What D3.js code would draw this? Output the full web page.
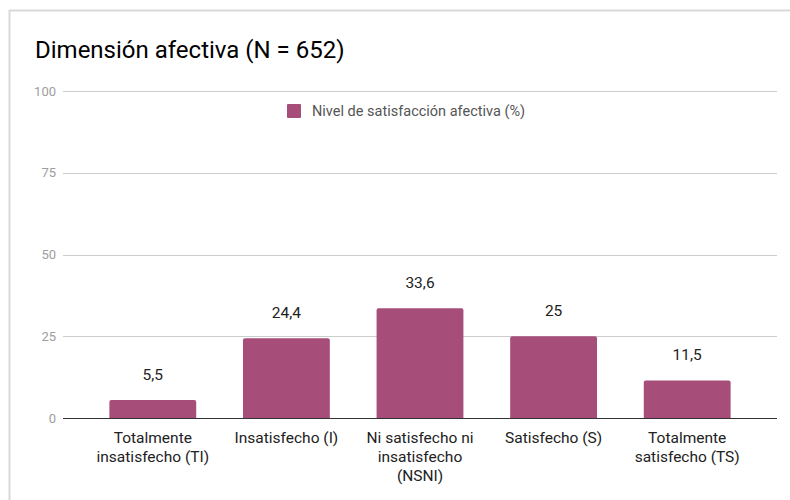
<!DOCTYPE html>
<html>
<head>
<meta charset="utf-8">
<script src="https://cdn.jsdelivr.net/npm/d3@7"></script>
<style>
  html, body { margin: 0; padding: 0; background: #fff; }
  svg { display: block; font-family: Roboto, "Noto Sans", sans-serif; }
</style>
</head>
<body>
<svg id="chart" width="790" height="500"></svg>
<script>
// Chart data
const categories = [
  "Totalmente insatisfecho (TI)",
  "Insatisfecho (I)",
  "Ni satisfecho ni insatisfecho (NSNI)",
  "Satisfecho (S)",
  "Totalmente satisfecho (TS)"
];
const values = [5.5, 24.4, 33.6, 25, 11.5];
const yTicks = [0, 25, 50, 75, 100];
const seriesName = "Nivel de satisfacción afectiva (%)";
const title = "Dimensión afectiva (N = 652)";

const svg = d3.select("#chart");
const barColor = "#a64d79";

// Outer frame (top and left edges)
svg.append("line").attr("x1", 9.5).attr("x2", 790).attr("y1", 10.5).attr("y2", 10.5)
  .attr("stroke", "#d9d9d9").attr("stroke-width", 2);
svg.append("line").attr("x1", 9.5).attr("x2", 9.5).attr("y1", 10).attr("y2", 500)
  .attr("stroke", "#d9d9d9").attr("stroke-width", 2);

// Title
svg.append("text").attr("x", 35).attr("y", 58)
  .attr("font-size", 24).attr("fill", "#000").text(title);

// Scales
const y = d3.scaleLinear().domain([0, 100]).range([418, 91]);
const x = d3.scaleBand().domain(categories).range([86, 754])
  .paddingInner(0.35).paddingOuter(0.175);

// Gridlines and y tick labels
const grid = svg.append("g");
grid.selectAll("line").data(yTicks.filter(t => t > 0)).join("line")
  .attr("x1", 63).attr("x2", 777)
  .attr("y1", d => Math.round(y(d)) + 0.5).attr("y2", d => Math.round(y(d)) + 0.5)
  .attr("stroke", "#cccccc").attr("stroke-width", 1);
grid.selectAll("text").data(yTicks).join("text")
  .attr("x", 56).attr("y", d => y(d) + 4.5)
  .attr("text-anchor", "end").attr("font-size", 13).attr("fill", "#9e9e9e")
  .text(d => d);

// Bars
svg.append("g").selectAll("path").data(values).join("path")
  .attr("fill", barColor)
  .attr("d", (d, i) => {
    const x0 = x(categories[i]), w = x.bandwidth();
    const y0 = y(d), h = y(0) - y(d), r = 2;
    return `M${x0},${y0 + h} V${y0 + r} Q${x0},${y0} ${x0 + r},${y0} H${x0 + w - r} Q${x0 + w},${y0} ${x0 + w},${y0 + r} V${y0 + h} Z`;
  });

// Baseline
svg.append("line").attr("x1", 63).attr("x2", 777)
  .attr("y1", y(0) + 0.5).attr("y2", y(0) + 0.5)
  .attr("stroke", "#333333").attr("stroke-width", 1);

// Value labels
svg.append("g").selectAll("text").data(values).join("text")
  .attr("x", (d, i) => x(categories[i]) + x.bandwidth() / 2)
  .attr("y", d => y(d) - 20)
  .attr("text-anchor", "middle").attr("font-size", 15.5).attr("fill", "#222")
  .text(d => String(d).replace(".", ","));

// Category labels, wrapped to fit the band
const maxW = 122;
const measure = svg.append("text").attr("font-size", 15.5).attr("visibility", "hidden");
function wrap(str) {
  const words = str.split(" ");
  const lines = [];
  let cur = "";
  for (const w of words) {
    const test = cur ? cur + " " + w : w;
    measure.text(test);
    if (cur && measure.node().getComputedTextLength() > maxW) {
      lines.push(cur); cur = w;
    } else cur = test;
  }
  if (cur) lines.push(cur);
  return lines;
}
const catG = svg.append("g");
categories.forEach(c => {
  const lines = wrap(c);
  const t = catG.append("text")
    .attr("x", x(c) + x.bandwidth() / 2).attr("y", 443)
    .attr("text-anchor", "middle").attr("font-size", 15.5).attr("fill", "#222");
  lines.forEach((l, k) => {
    t.append("tspan").attr("x", x(c) + x.bandwidth() / 2).attr("y", 443 + k * 19).text(l);
  });
});
measure.remove();

// Legend
const legend = svg.append("g");
legend.append("rect").attr("x", 287).attr("y", 104).attr("width", 14).attr("height", 14)
  .attr("rx", 1).attr("fill", barColor);
legend.append("text").attr("x", 312).attr("y", 116)
  .attr("font-size", 14.5).attr("fill", "#555").text(seriesName);
</script>
</body>
</html>
